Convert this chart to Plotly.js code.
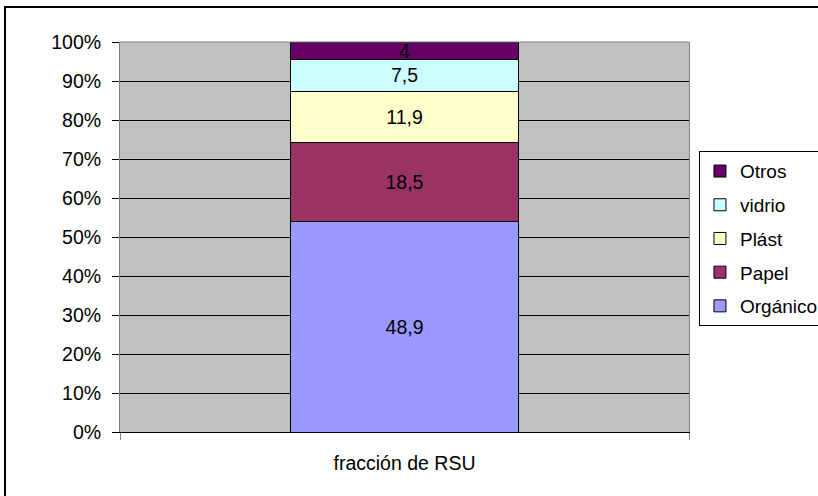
<!DOCTYPE html>
<html>
<head>
<meta charset="utf-8">
<script src="https://cdn.plot.ly/plotly-3.0.1.min.js"></script>
<style>
  html, body { margin: 0; padding: 0; background: #ffffff; }
  #chart { width: 818px; height: 496px; }
</style>
</head>
<body>
<div id="chart"></div>
<script>
// ---- data ----
const categories = ['fracción de RSU'];
const seriesNames = ['Orgánico', 'Papel', 'Plást', 'vidrio', 'Otros'];
const organico = [48.9];
const papel = [18.5];
const plast = [11.9];
const vidrio = [7.5];
const otros = [4];
const yTickVals = [0, 10, 20, 30, 40, 50, 60, 70, 80, 90, 100];

// ---- styles ----
const colors = ['#9999FF', '#993366', '#FFFFCC', '#CCFFFF', '#660066'];
const FONT = 'Liberation Sans, Arial, sans-serif';
const FS = 19.5;

const seriesValues = [organico, papel, plast, vidrio, otros];
const fmt = v => String(v).replace('.', ',');

const traces = seriesNames.map((name, i) => ({
  type: 'bar',
  name: name,
  legendgroup: name,
  legendrank: seriesNames.length - i,
  x: categories,
  y: seriesValues[i],
  text: seriesValues[i].map(fmt),
  textposition: 'inside',
  insidetextanchor: 'middle',
  textangle: 0,
  constraintext: 'none',
  textfont: { family: FONT, size: FS, color: '#000000' },
  width: 0.4,
  marker: { color: colors[i], line: { color: '#000000', width: 1 } },
  hoverinfo: 'skip'
}));

const layout = {
  width: 818,
  height: 496,
  margin: { l: 120, r: 129, t: 42, b: 64, autoexpand: false },
  paper_bgcolor: '#ffffff',
  plot_bgcolor: '#C0C0C0',
  barmode: 'stack',
  barnorm: 'percent',
  showlegend: true,
  font: { family: FONT, size: FS, color: '#000000' },
  xaxis: {
    type: 'category',
    range: [-0.5, 0.5],
    showgrid: false,
    showline: true,
    linecolor: '#000000',
    linewidth: 1,
    ticks: 'outside',
    tickson: 'boundaries',
    ticklen: 7,
    tickcolor: '#808080',
    ticklabelstandoff: 14,
    tickfont: { family: FONT, size: FS, color: '#000000' },
    fixedrange: true
  },
  yaxis: {
    range: [0, 100],
    tickvals: yTickVals,
    ticktext: yTickVals.map(v => v + '%'),
    showgrid: true,
    gridcolor: '#000000',
    gridwidth: 1,
    zeroline: false,
    showline: true,
    linecolor: '#808080',
    linewidth: 1,
    mirror: true,
    ticks: 'outside',
    ticklen: 7,
    tickcolor: '#000000',
    ticklabelstandoff: 7,
    tickfont: { family: FONT, size: FS, color: '#000000' },
    fixedrange: true
  },
  legend: {
    x: 1.0175,
    xanchor: 'left',
    y: 0.72,
    yanchor: 'top',
    traceorder: 'grouped',
    tracegroupgap: 6,
    bgcolor: '#ffffff',
    bordercolor: '#000000',
    borderwidth: 1,
    font: { family: FONT, size: 19, color: '#000000' }
  },
  shapes: [
    { type: 'line', xref: 'paper', yref: 'paper', x0: 0, x1: 1, y0: 1, y1: 1,
      line: { color: '#808080', width: 1 }, layer: 'above' },
    { type: 'rect', xref: 'paper', yref: 'paper', x0: -0.2021, x1: 1.3, y0: -0.3, y1: 1.0897,
      line: { color: '#000000', width: 2 }, fillcolor: 'rgba(0,0,0,0)', layer: 'below' }
  ]
};

Plotly.newPlot('chart', traces, layout, { displayModeBar: false, staticPlot: true });
</script>
</body>
</html>
